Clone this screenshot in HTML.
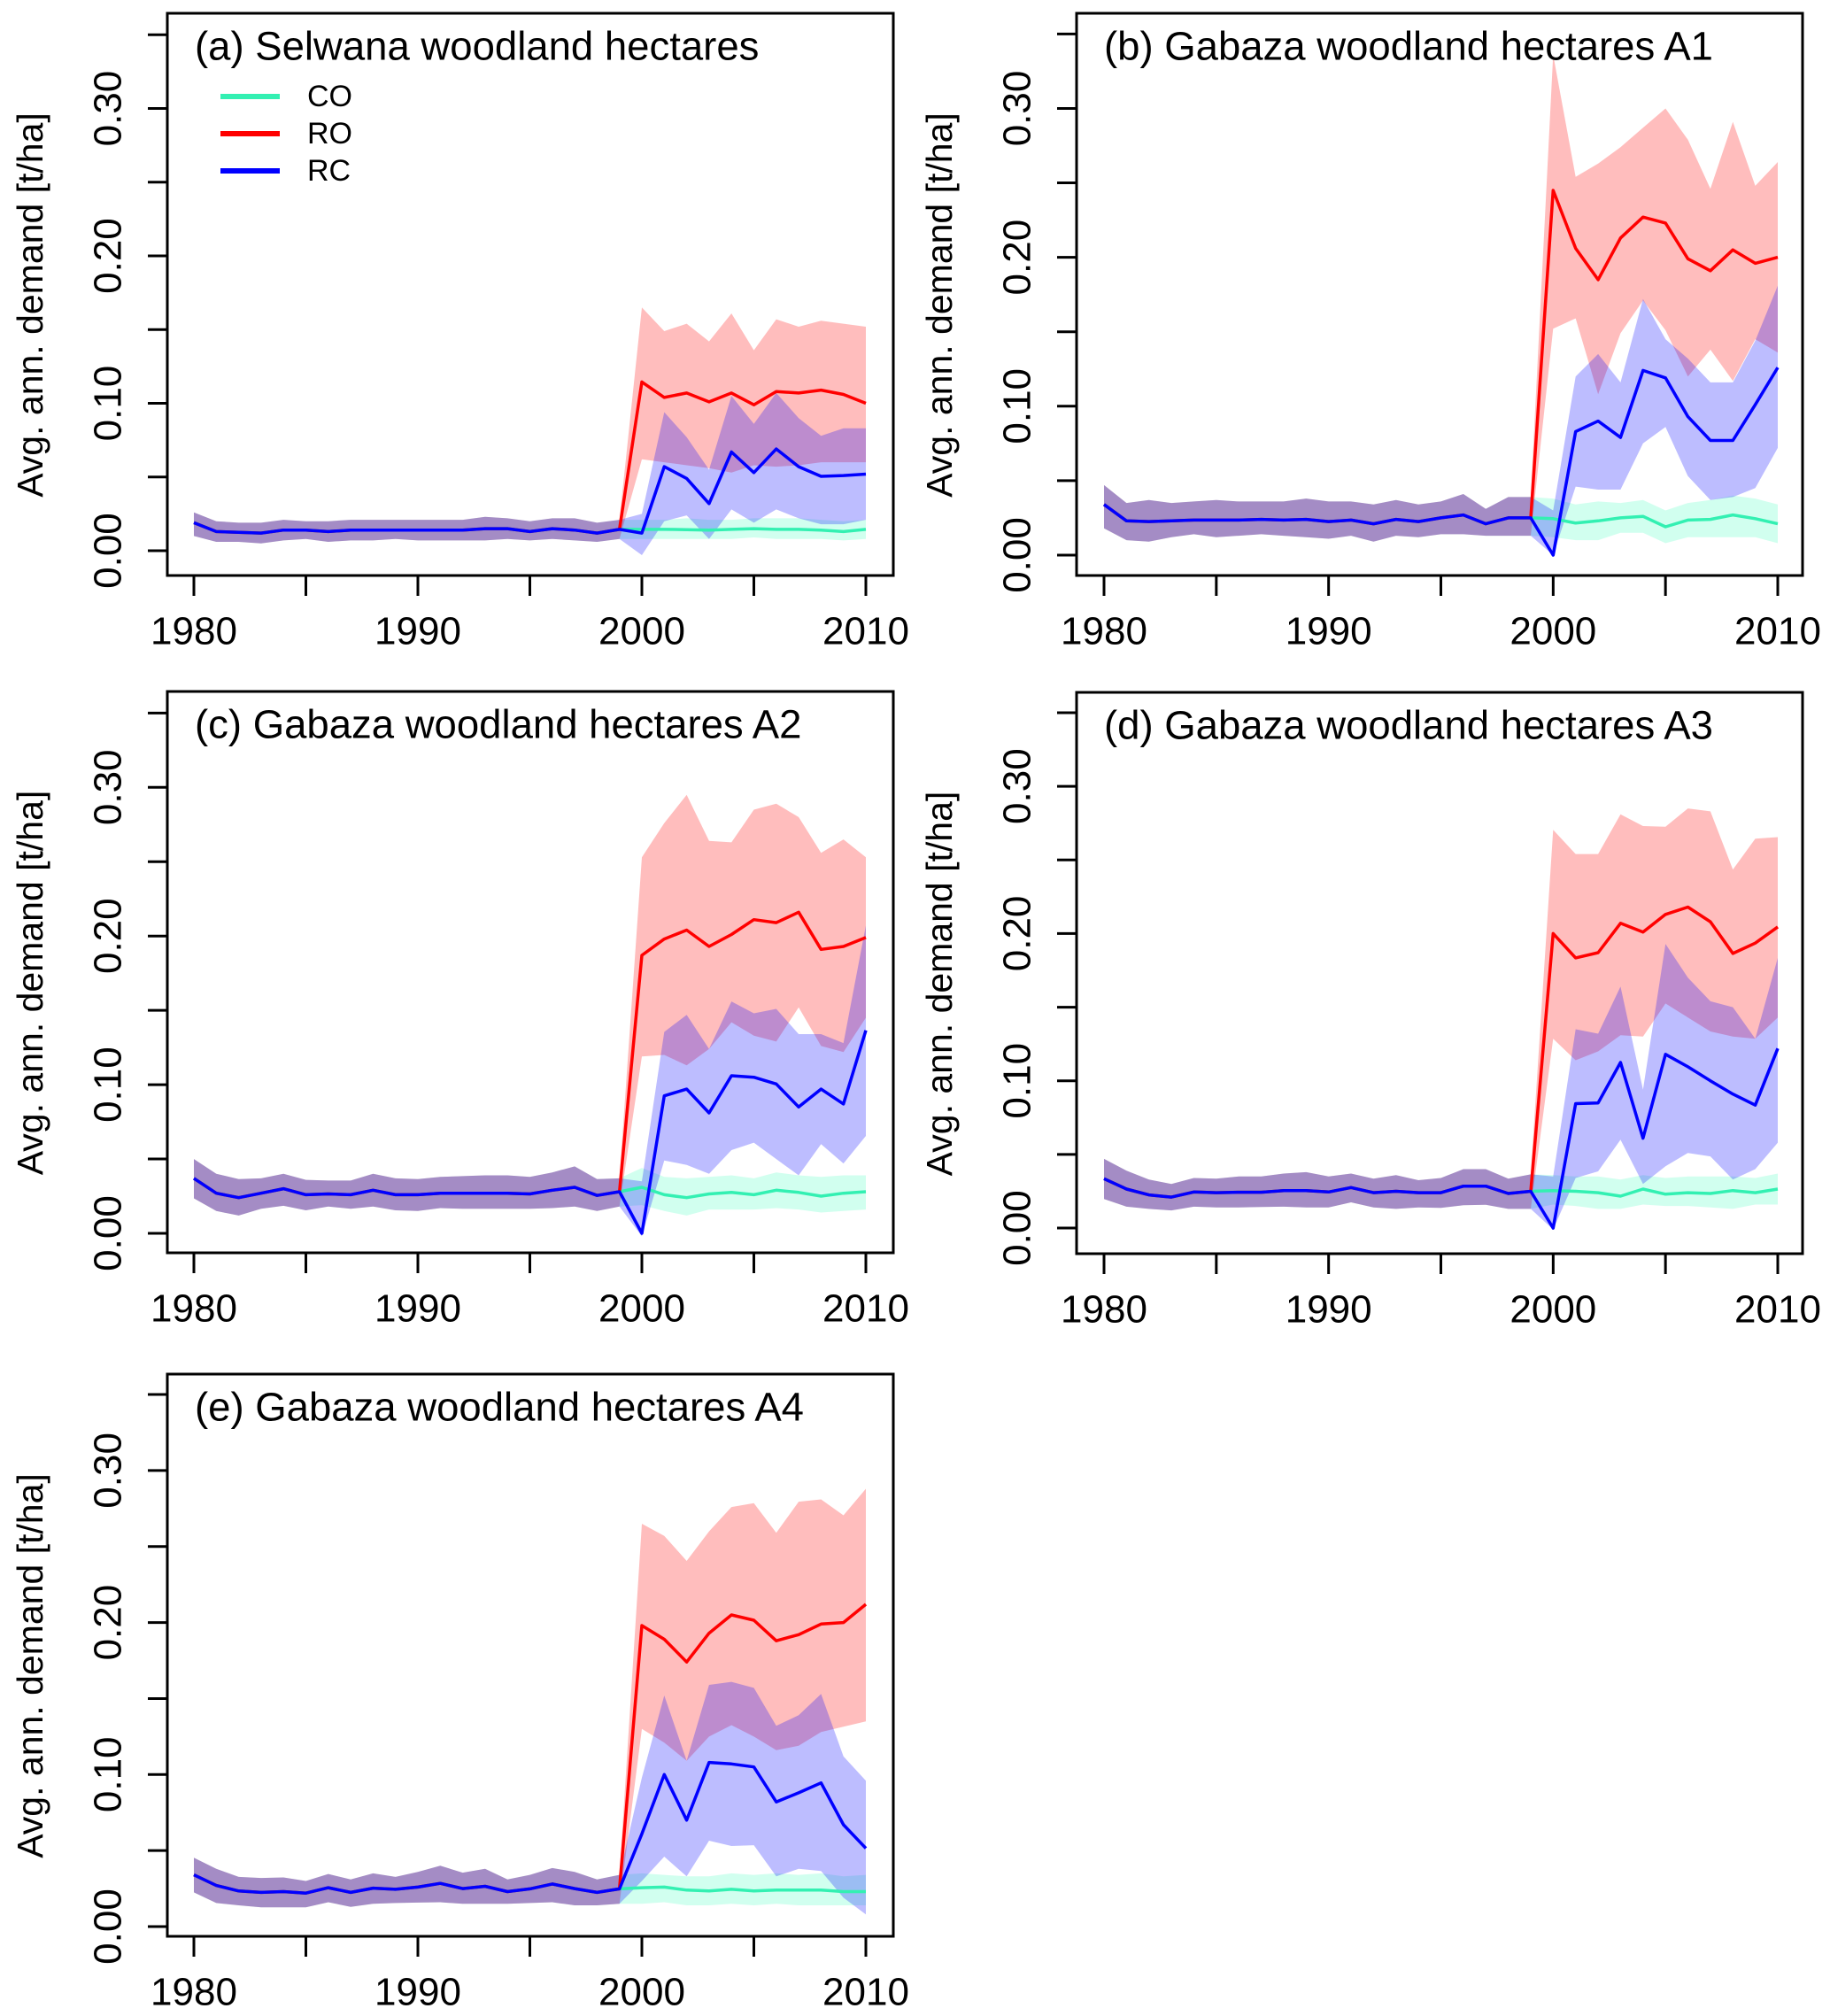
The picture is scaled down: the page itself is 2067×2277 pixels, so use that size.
<!DOCTYPE html>
<html><head><meta charset="utf-8">
<style>
html,body{margin:0;padding:0;background:#fff;}
svg{display:block;font-family:"Liberation Sans",Arial,sans-serif;}
</style></head>
<body>
<svg id="chart" xmlns="http://www.w3.org/2000/svg" width="2067" height="2277" viewBox="0 0 2067 2277"></svg>
<script>
// ---------- data ----------
const years = [1980,1981,1982,1983,1984,1985,1986,1987,1988,1989,1990,1991,1992,1993,1994,1995,1996,1997,1998,1999,2000,2001,2002,2003,2004,2005,2006,2007,2008,2009,2010];
const xTickYears = [1980,1985,1990,1995,2000,2005,2010];
const xLabelYears = [1980,1990,2000,2010];
const yTicks = [0,0.05,0.10,0.15,0.20,0.25,0.30,0.35];
const yLabelTicks = ["0.00","0.10","0.20","0.30"];
const yLabelValues = [0,0.1,0.2,0.3];
const seriesNames = ["CO","RO","RC"];
const panelTitles = ["(a) Selwana woodland hectares","(b) Gabaza woodland hectares A1","(c) Gabaza woodland hectares A2","(d) Gabaza woodland hectares A3","(e) Gabaza woodland hectares A4"];

// panel a
const aPreMean = [0.019,0.013,0.0125,0.012,0.014,0.014,0.013,0.014,0.014,0.014,0.014,0.014,0.014,0.015,0.015,0.013,0.015,0.014,0.012,0.0145];
const aPreHi = [0.026,0.020,0.019,0.019,0.021,0.020,0.020,0.021,0.021,0.021,0.021,0.021,0.021,0.023,0.022,0.020,0.022,0.022,0.019,0.021];
const aPreLo = [0.010,0.006,0.006,0.005,0.007,0.008,0.006,0.007,0.007,0.008,0.007,0.007,0.007,0.007,0.008,0.007,0.008,0.007,0.006,0.008];
const aCOMean = [0.0145,0.0145,0.0143,0.014,0.0145,0.015,0.0145,0.0145,0.014,0.013,0.0145];
const aCOHi = [0.021,0.021,0.022,0.021,0.021,0.022,0.022,0.022,0.021,0.020,0.021];
const aCOLo = [0.008,0.008,0.008,0.008,0.008,0.009,0.008,0.008,0.008,0.007,0.008];
const aROMean = [0.1145,0.104,0.107,0.101,0.107,0.099,0.108,0.107,0.109,0.106,0.100];
const aROHi = [0.165,0.149,0.154,0.142,0.161,0.136,0.157,0.152,0.156,0.154,0.152];
const aROLo = [0.062,0.060,0.058,0.056,0.053,0.058,0.057,0.058,0.060,0.060,0.060];
const aRCMean = [0.012,0.057,0.049,0.032,0.067,0.053,0.069,0.057,0.0505,0.051,0.052];
const aRCHi = [0.025,0.094,0.077,0.055,0.105,0.086,0.107,0.090,0.078,0.083,0.083];
const aRCLo = [-0.003,0.020,0.024,0.008,0.028,0.019,0.028,0.022,0.018,0.018,0.021];

// panel b
const bPreMean = [0.034,0.023,0.0225,0.023,0.0235,0.0235,0.0235,0.024,0.0235,0.024,0.0225,0.0235,0.021,0.024,0.0225,0.025,0.027,0.021,0.025,0.025];
const bPreHi = [0.047,0.035,0.037,0.035,0.036,0.037,0.036,0.036,0.036,0.038,0.036,0.036,0.034,0.037,0.034,0.036,0.041,0.031,0.039,0.039];
const bPreLo = [0.018,0.010,0.009,0.012,0.014,0.012,0.013,0.014,0.013,0.012,0.011,0.013,0.009,0.013,0.012,0.014,0.014,0.013,0.013,0.013];
const bCOMean = [0.0245,0.0215,0.023,0.025,0.026,0.019,0.0235,0.024,0.027,0.0245,0.021];
const bCOHi = [0.038,0.034,0.036,0.035,0.037,0.030,0.035,0.037,0.040,0.038,0.034];
const bCOLo = [0.012,0.010,0.010,0.015,0.015,0.008,0.012,0.012,0.012,0.012,0.008];
const bROMean = [0.245,0.206,0.185,0.213,0.227,0.223,0.199,0.191,0.205,0.196,0.200];
const bROHi = [0.336,0.254,0.263,0.274,0.287,0.300,0.279,0.246,0.291,0.248,0.264];
const bROLo = [0.152,0.159,0.108,0.149,0.171,0.151,0.120,0.138,0.117,0.145,0.136];
const bRCMean = [0.0,0.083,0.090,0.079,0.124,0.119,0.093,0.077,0.077,0.101,0.126];
const bRCHi = [0.030,0.120,0.135,0.116,0.172,0.145,0.132,0.116,0.116,0.144,0.181];
const bRCLo = [0.0,0.046,0.044,0.044,0.075,0.086,0.053,0.037,0.039,0.045,0.072];

// panel c
const cPreMean = [0.037,0.027,0.024,0.027,0.030,0.026,0.0265,0.026,0.029,0.026,0.026,0.027,0.027,0.027,0.027,0.0265,0.029,0.031,0.0255,0.028];
const cPreHi = [0.050,0.040,0.0365,0.037,0.040,0.036,0.0355,0.0355,0.040,0.037,0.0365,0.038,0.0385,0.039,0.039,0.038,0.041,0.045,0.0365,0.037];
const cPreLo = [0.0235,0.015,0.012,0.0165,0.0185,0.0155,0.018,0.0165,0.018,0.0155,0.015,0.017,0.0165,0.0165,0.0165,0.0165,0.017,0.018,0.015,0.018];
const cCOMean = [0.031,0.026,0.024,0.0265,0.0275,0.026,0.029,0.0275,0.025,0.027,0.028];
const cCOHi = [0.044,0.038,0.037,0.038,0.039,0.037,0.041,0.039,0.038,0.039,0.039];
const cCOLo = [0.019,0.015,0.012,0.016,0.016,0.016,0.017,0.016,0.014,0.015,0.016];
const cROMean = [0.187,0.198,0.204,0.193,0.201,0.211,0.209,0.216,0.191,0.193,0.199];
const cROHi = [0.253,0.276,0.295,0.264,0.263,0.285,0.289,0.280,0.256,0.265,0.253];
const cROLo = [0.119,0.120,0.113,0.124,0.142,0.133,0.129,0.152,0.126,0.122,0.145];
const cRCMean = [0.0,0.0925,0.097,0.081,0.106,0.105,0.1005,0.085,0.097,0.087,0.1365];
const cRCHi = [0.035,0.1355,0.147,0.124,0.156,0.148,0.151,0.134,0.134,0.128,0.207];
const cRCLo = [-0.002,0.049,0.046,0.040,0.056,0.061,0.050,0.039,0.060,0.047,0.0655];

// panel d
const dPreMean = [0.0335,0.0265,0.0225,0.021,0.0245,0.024,0.0243,0.0243,0.0255,0.0255,0.0245,0.0275,0.024,0.025,0.024,0.024,0.0285,0.0285,0.0235,0.025];
const dPreHi = [0.047,0.039,0.033,0.030,0.034,0.0335,0.035,0.035,0.037,0.038,0.035,0.037,0.0335,0.036,0.0325,0.034,0.040,0.040,0.0335,0.0365];
const dPreLo = [0.0197,0.0145,0.013,0.012,0.0145,0.014,0.014,0.0143,0.0145,0.014,0.014,0.0175,0.014,0.013,0.014,0.0137,0.0155,0.0158,0.013,0.013];
const dCOMean = [0.0255,0.025,0.024,0.0217,0.0265,0.023,0.024,0.0235,0.0255,0.024,0.0265];
const dCOHi = [0.036,0.035,0.035,0.033,0.036,0.034,0.035,0.035,0.035,0.034,0.037];
const dCOLo = [0.016,0.015,0.013,0.013,0.016,0.015,0.015,0.014,0.013,0.016,0.016];
const dROMean = [0.200,0.1835,0.187,0.207,0.201,0.213,0.218,0.208,0.1865,0.1935,0.2045];
const dROHi = [0.2705,0.254,0.254,0.281,0.273,0.2725,0.285,0.283,0.2435,0.2645,0.2655];
const dROLo = [0.1285,0.114,0.120,0.131,0.130,0.1525,0.143,0.1335,0.130,0.1285,0.143];
const dRCMean = [0.0,0.0845,0.085,0.1125,0.061,0.118,0.1095,0.100,0.091,0.0835,0.122];
const dRCHi = [0.035,0.135,0.132,0.164,0.094,0.193,0.170,0.154,0.150,0.1285,0.1835];
const dRCLo = [-0.001,0.034,0.0385,0.060,0.030,0.042,0.051,0.0487,0.033,0.040,0.058];

// panel e
const ePreMean = [0.034,0.027,0.0234,0.0225,0.023,0.022,0.0256,0.0225,0.0253,0.0245,0.026,0.0284,0.025,0.0265,0.023,0.0248,0.028,0.025,0.0225,0.0248];
const ePreHi = [0.0453,0.038,0.0327,0.032,0.0323,0.030,0.0346,0.031,0.035,0.0327,0.036,0.040,0.0355,0.038,0.031,0.034,0.0385,0.036,0.031,0.034];
const ePreLo = [0.0225,0.0155,0.014,0.0127,0.0127,0.0127,0.016,0.013,0.015,0.0155,0.0158,0.016,0.015,0.015,0.015,0.0155,0.016,0.014,0.014,0.015];
const eCOMean = [0.0256,0.026,0.024,0.0234,0.0245,0.0234,0.024,0.024,0.024,0.023,0.023];
const eCOHi = [0.035,0.034,0.033,0.033,0.035,0.034,0.035,0.034,0.035,0.033,0.034];
const eCOLo = [0.015,0.016,0.014,0.014,0.015,0.014,0.015,0.014,0.014,0.014,0.014];
const eROMean = [0.198,0.189,0.174,0.193,0.205,0.2015,0.188,0.192,0.199,0.200,0.212];
const eROHi = [0.265,0.257,0.2405,0.260,0.276,0.2785,0.259,0.2795,0.281,0.2705,0.288];
const eROLo = [0.130,0.121,0.109,0.125,0.1325,0.125,0.116,0.119,0.128,0.1315,0.135];
const eRCMean = [0.061,0.100,0.070,0.108,0.107,0.105,0.082,0.088,0.0945,0.067,0.0515];
const eRCHi = [0.098,0.152,0.109,0.159,0.161,0.157,0.132,0.139,0.153,0.112,0.096];
const eRCLo = [0.030,0.046,0.033,0.0565,0.053,0.0535,0.033,0.038,0.0365,0.019,0.008];

// ---------- layout ----------
const panels = [
 {id:"a", box:[189,15,1009,650], x0:219, x1:978, ylo:-0.0168, yhi:0.3646, pre:[aPreMean,aPreLo,aPreHi], co:[aCOMean,aCOLo,aCOHi], ro:[aROMean,aROLo,aROHi], rc:[aRCMean,aRCLo,aRCHi], legend:true},
 {id:"b", box:[1216,15,2036,650], x0:1247, x1:2008, ylo:-0.0137, yhi:0.3639, pre:[bPreMean,bPreLo,bPreHi], co:[bCOMean,bCOLo,bCOHi], ro:[bROMean,bROLo,bROHi], rc:[bRCMean,bRCLo,bRCHi]},
 {id:"c", box:[189,781,1009,1415], x0:219, x1:978, ylo:-0.0131, yhi:0.3645, pre:[cPreMean,cPreLo,cPreHi], co:[cCOMean,cCOLo,cCOHi], ro:[cROMean,cROLo,cROHi], rc:[cRCMean,cRCLo,cRCHi]},
 {id:"d", box:[1216,782,2036,1416], x0:1247, x1:2008, ylo:-0.0174, yhi:0.3638, pre:[dPreMean,dPreLo,dPreHi], co:[dCOMean,dCOLo,dCOHi], ro:[dROMean,dROLo,dROHi], rc:[dRCMean,dRCLo,dRCHi]},
 {id:"e", box:[189,1552,1009,2187], x0:219, x1:978, ylo:-0.0064, yhi:0.3634, pre:[ePreMean,ePreLo,ePreHi], co:[eCOMean,eCOLo,eCOHi], ro:[eROMean,eROLo,eROHi], rc:[eRCMean,eRCLo,eRCHi]}
];
const bandFill = {CO:"rgba(127,255,212,0.36)", RO:"rgba(255,0,0,0.26)", RC:"rgba(0,0,255,0.26)"};
const lineCol = {CO:"#33f0b2", RO:"#ff0000", RC:"#0000ff"};

const NS = "http://www.w3.org/2000/svg";
const svg = document.getElementById("chart");
function mk(tag, attrs, parent){
  const e = document.createElementNS(NS, tag);
  for (const k in attrs) e.setAttribute(k, attrs[k]);
  parent.appendChild(e);
  return e;
}

panels.forEach((p, pi) => {
  const [L,T,R,B] = p.box;
  const xs = yr => p.x0 + (yr - 1980) * (p.x1 - p.x0) / 30;
  const ys = v => B - (v - p.ylo) * (B - T) / (p.yhi - p.ylo);
  const g = mk("g", {}, svg);
  
  
  const clip = mk("clipPath", {id:"clip"+p.id}, mk("defs", {}, g));
  mk("rect", {x:L, y:T, width:R-L, height:B-T}, clip);
  const plot = mk("g", {"clip-path":"url(#clip"+p.id+")"}, g);

  const ser = {CO:p.co, RO:p.ro, RC:p.rc};
  seriesNames.forEach(s => {
    const lo = p.pre[1].concat(ser[s][1]);
    const hi = p.pre[2].concat(ser[s][2]);
    let pts = [];
    years.forEach((yr,i) => pts.push(xs(yr).toFixed(1)+","+ys(hi[i]).toFixed(1)));
    for (let i = years.length-1; i >= 0; i--) pts.push(xs(years[i]).toFixed(1)+","+ys(lo[i]).toFixed(1));
    const band = mk("polygon", {points:pts.join(" "), fill:bandFill[s], stroke:"none"}, plot);
    
    
  });
  seriesNames.forEach(s => {
    const m = p.pre[0].concat(ser[s][0]);
    const pts = years.map((yr,i) => xs(yr).toFixed(1)+","+ys(m[i]).toFixed(1)).join(" ");
    const ln = mk("polyline", {points:pts, fill:"none", stroke:lineCol[s], "stroke-width":3.5, "stroke-linejoin":"round"}, plot);
    
    
  });

  const box = mk("rect", {x:L, y:T, width:R-L, height:B-T, fill:"none", stroke:"#000", "stroke-width":3}, g);
  
  

  // y axis ticks
  yTicks.forEach(v => {
    const t = mk("line", {x1:L-22, x2:L, y1:ys(v), y2:ys(v), stroke:"#000", "stroke-width":3}, g);
    
    
  });
  const ylabX = L - 67;
  yLabelValues.forEach((v,i) => {
    const yy = ys(v);
    const t = mk("text", {x:ylabX, y:yy, "font-size":44, "text-anchor":"middle", "dominant-baseline":"central", transform:"rotate(-90 "+ylabX+" "+yy+")"}, g);
    t.textContent = yLabelTicks[i];
    
    
  });
  // x ticks
  xTickYears.forEach(yr => {
    const t = mk("line", {x1:xs(yr), x2:xs(yr), y1:B, y2:B+23, stroke:"#000", "stroke-width":3}, g);
    
    
  });
  xLabelYears.forEach(yr => {
    const t = mk("text", {x:xs(yr), y:B+63, "font-size":44, "text-anchor":"middle", "dominant-baseline":"central"}, g);
    t.textContent = yr;
    
    
  });
  // y axis title
  const tx = L - 155, ty = (T + B) / 2 + 12;
  const yt = mk("text", {x:tx, y:ty, "font-size":41, "text-anchor":"middle", "dominant-baseline":"central", transform:"rotate(-90 "+tx+" "+ty+")"}, g);
  yt.textContent = "Avg. ann. demand [t/ha]";
  
  
  // title
  const tt = mk("text", {x:L+31, y:T+37, "font-size":45.5, "dominant-baseline":"central"}, g);
  tt.textContent = panelTitles[pi];
  
  

  if (p.legend) {
    const lg = mk("g", {}, g);
    
    
    seriesNames.forEach((s,i) => {
      const yy = T + 94 + i * 42;
      const ll = mk("line", {x1:L+60, x2:L+127, y1:yy, y2:yy, stroke:lineCol[s], "stroke-width":6}, lg);
      
      
      const lt = mk("text", {x:L+158, y:yy, "font-size":34, "dominant-baseline":"central"}, lg);
      lt.textContent = s;
      
      
    });
  }
});
</script>
</body></html>
